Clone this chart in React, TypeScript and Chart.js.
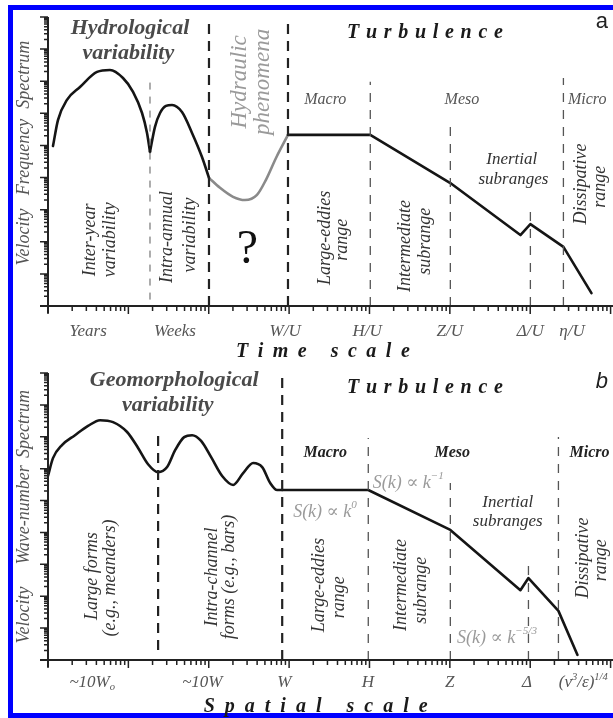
import React, { useEffect, useRef } from "react";
import { Chart, registerables } from "chart.js";

Chart.register(...registerables);

const SERIF = '"Liberation Serif", "Times New Roman", "DejaVu Serif", serif';
const SANS = '"Liberation Sans", Arial, "DejaVu Sans", sans-serif';

// ---------- shared log-decade axes ----------
const xDecades = [0, 1, 2, 3, 4, 5, 6, 7];
const yDecades = [0, 1, 2, 3, 4, 5, 6, 7, 8, 9];
const minorSteps = [2, 3, 4, 5, 6, 7, 8, 9];

// ---------- panel a : time scale ----------
const timeTickLabels = ["Years", "Weeks", "W/U", "H/U", "Z/U", "Δ/U", "η/U"];
const timeTickPos = [0.5, 1.58, 2.95, 3.97, 5.0, 6.0, 6.52];

const interYearX = [0.062, 0.124, 0.236, 0.398, 0.61, 0.771, 0.933, 1.058, 1.17, 1.232, 1.269];
const interYearY = [4.98, 5.79, 6.42, 6.82, 7.29, 7.35, 7.1, 6.67, 6.01, 5.39, 4.8];

const intraAnnualX = [1.269, 1.331, 1.394, 1.468, 1.543, 1.667, 1.792, 1.916, 2.003];
const intraAnnualY = [4.8, 5.58, 6.01, 6.23, 6.26, 6.04, 5.39, 4.64, 3.99];

const hydraulicX = [2.003, 2.14, 2.302, 2.451, 2.6, 2.712, 2.837, 2.986];
const hydraulicY = [3.99, 3.68, 3.4, 3.3, 3.46, 3.93, 4.61, 5.33];

const turbTimeX = [2.986, 4.01, 5.006, 5.878, 6.002, 6.413, 6.762];
const turbTimeY = [5.33, 5.33, 3.83, 2.21, 2.55, 1.84, 0.4];

const boundsTimeX = [1.269, 2.003, 2.986, 4.01, 5.006, 6.002, 6.413];
const boundsTimeTop = [7.1, 9, 9, 6.98, 5.73, 3.05, 7.1];
const boundsTimeBottom = [0.2, 0, 0, 0, 0, 0, 0];
const boundsTimeKind = ["light", "bold", "bold", "thin", "thin", "thin", "thin"];

// ---------- panel b : spatial scale ----------
const spaceTickLabels = ["~10W_{o}", "~10W", "W", "H", "Z", "Δ", "(ν^{3}/ε)^{1/4}"];
const spaceTickPos = [0.55, 1.92, 2.94, 3.98, 5.0, 5.96, 6.66];

const geomorphX = [0.0, 0.062, 0.174, 0.336, 0.498, 0.648, 0.809, 0.984, 1.121, 1.245, 1.37, 1.482, 1.582, 1.694, 1.793, 1.905, 2.03, 2.167, 2.304, 2.428, 2.553, 2.665, 2.765, 2.852, 2.914];
const geomorphY = [5.77, 6.33, 6.74, 7.05, 7.34, 7.52, 7.46, 7.15, 6.65, 6.14, 5.89, 6.05, 6.58, 6.99, 7.05, 6.87, 6.36, 5.77, 5.49, 5.86, 6.18, 6.05, 5.55, 5.33, 5.33];

const turbSpaceX = [2.914, 3.985, 5.006, 5.878, 5.978, 6.351, 6.588];
const turbSpaceY = [5.33, 5.33, 4.08, 2.19, 2.57, 1.54, 0.16];

const boundsSpaceX = [1.37, 2.914, 3.985, 5.006, 5.978, 6.351];
const boundsSpaceTop = [7.15, 9, 6.96, 5.55, 3.1, 6.99];
const boundsSpaceBottom = [0.31, 0, 0, 0, 0, 0];
const boundsSpaceKind = ["bold", "bold", "thin", "thin", "thin", "thin"];

// ---------- annotations ----------
type Ann = {
  t: string; x: number; y: number; size: number;
  style?: string; weight?: string; color?: string; rot?: boolean;
  align?: "left" | "center"; spacing?: number; family?: string;
};

const annTime: Ann[] = [
  { t: "Hydrological", x: 1.02, y: 8.66, size: 22, style: "italic", weight: "bold", color: "#4a4a4a" },
  { t: "variability", x: 1.0, y: 7.88, size: 22, style: "italic", weight: "bold", color: "#4a4a4a" },
  { t: "Hydraulic", x: 2.39, y: 6.98, size: 23, style: "italic", color: "#9a9a9a", rot: true },
  { t: "phenomena", x: 2.675, y: 6.98, size: 23, style: "italic", color: "#9a9a9a", rot: true },
  { t: "Turbulence", x: 4.69, y: 8.5, size: 20, style: "italic", weight: "bold", color: "#1a1a1a", spacing: 6.7 },
  { t: "a", x: 6.89, y: 8.85, size: 22, family: SANS, color: "#222" },
  { t: "Macro", x: 3.45, y: 6.42, size: 16, style: "italic", color: "#555" },
  { t: "Meso", x: 5.15, y: 6.42, size: 16, style: "italic", color: "#555" },
  { t: "Micro", x: 6.47, y: 6.42, size: 16, style: "italic", color: "#555", align: "left" },
  { t: "Inertial", x: 5.77, y: 4.55, size: 17, style: "italic", color: "#333" },
  { t: "subranges", x: 5.79, y: 3.93, size: 17, style: "italic", color: "#333" },
  { t: "Inter-year", x: 0.52, y: 2.06, size: 18, style: "italic", color: "#333", rot: true },
  { t: "variability", x: 0.77, y: 2.06, size: 18, style: "italic", color: "#333", rot: true },
  { t: "Intra-annual", x: 1.49, y: 2.15, size: 18, style: "italic", color: "#333", rot: true },
  { t: "variability", x: 1.77, y: 2.21, size: 18, style: "italic", color: "#333", rot: true },
  { t: "?", x: 2.48, y: 1.74, size: 48, color: "#111" },
  { t: "Large-eddies", x: 3.45, y: 2.12, size: 18, style: "italic", color: "#333", rot: true },
  { t: "range", x: 3.66, y: 2.06, size: 18, style: "italic", color: "#333", rot: true },
  { t: "Intermediate", x: 4.44, y: 1.87, size: 18, style: "italic", color: "#333", rot: true },
  { t: "subrange", x: 4.69, y: 2.02, size: 18, style: "italic", color: "#333", rot: true },
  { t: "Dissipative", x: 6.64, y: 3.8, size: 18, style: "italic", color: "#333", rot: true },
  { t: "range", x: 6.87, y: 3.71, size: 18, style: "italic", color: "#333", rot: true },
  { t: "Spectrum", x: -0.29, y: 7.2, size: 18, style: "italic", color: "#555", rot: true },
  { t: "Frequency", x: -0.29, y: 4.64, size: 18, style: "italic", color: "#555", rot: true },
  { t: "Velocity", x: -0.29, y: 2.15, size: 18, style: "italic", color: "#555", rot: true },
  { t: "Time scale", x: 3.42, y: -1.43, size: 20, style: "italic", weight: "bold", color: "#1a1a1a", spacing: 9.5 },
];

const annSpace: Ann[] = [
  { t: "Geomorphological", x: 1.57, y: 8.78, size: 22, style: "italic", weight: "bold", color: "#4a4a4a" },
  { t: "variability", x: 1.49, y: 7.99, size: 22, style: "italic", weight: "bold", color: "#4a4a4a" },
  { t: "Turbulence", x: 4.69, y: 8.53, size: 20, style: "italic", weight: "bold", color: "#1a1a1a", spacing: 6.7 },
  { t: "b", x: 6.89, y: 8.71, size: 22, style: "italic", family: SANS, color: "#222" },
  { t: "Macro", x: 3.45, y: 6.49, size: 16, style: "italic", weight: "bold", color: "#222" },
  { t: "Meso", x: 5.03, y: 6.49, size: 16, style: "italic", weight: "bold", color: "#222" },
  { t: "Micro", x: 6.49, y: 6.49, size: 16, style: "italic", weight: "bold", color: "#222", align: "left" },
  { t: "S(k) ∝ k^{−1}", x: 4.04, y: 5.55, size: 18, style: "italic", color: "#9a9a9a", align: "left" },
  { t: "S(k) ∝ k^{0}", x: 3.05, y: 4.64, size: 18, style: "italic", color: "#9a9a9a", align: "left" },
  { t: "S(k) ∝ k^{−5/3}", x: 5.09, y: 0.69, size: 18, style: "italic", color: "#9a9a9a", align: "left" },
  { t: "Inertial", x: 5.72, y: 4.95, size: 17, style: "italic", color: "#333" },
  { t: "subranges", x: 5.72, y: 4.33, size: 17, style: "italic", color: "#333" },
  { t: "Large forms", x: 0.55, y: 2.63, size: 18, style: "italic", color: "#333", rot: true },
  { t: "(e.g., meanders)", x: 0.77, y: 2.57, size: 18, style: "italic", color: "#333", rot: true },
  { t: "Intra-channel", x: 2.05, y: 2.6, size: 18, style: "italic", color: "#333", rot: true },
  { t: "forms (e.g., bars)", x: 2.26, y: 2.6, size: 18, style: "italic", color: "#333", rot: true },
  { t: "Large-eddies", x: 3.38, y: 2.35, size: 18, style: "italic", color: "#333", rot: true },
  { t: "range", x: 3.63, y: 1.97, size: 18, style: "italic", color: "#333", rot: true },
  { t: "Intermediate", x: 4.4, y: 2.35, size: 18, style: "italic", color: "#333", rot: true },
  { t: "subrange", x: 4.65, y: 2.19, size: 18, style: "italic", color: "#333", rot: true },
  { t: "Dissipative", x: 6.66, y: 3.2, size: 18, style: "italic", color: "#333", rot: true },
  { t: "range", x: 6.89, y: 3.13, size: 18, style: "italic", color: "#333", rot: true },
  { t: "Spectrum", x: -0.29, y: 7.4, size: 18, style: "italic", color: "#555", rot: true },
  { t: "Wave-number", x: -0.29, y: 4.55, size: 18, style: "italic", color: "#555", rot: true },
  { t: "Velocity", x: -0.29, y: 1.41, size: 18, style: "italic", color: "#555", rot: true },
  { t: "Spatial scale", x: 3.33, y: -1.47, size: 20, style: "italic", weight: "bold", color: "#1a1a1a", spacing: 10 },
];

// ---------- drawing helpers ----------
function parseRich(t: string) {
  const out: { s: string; m: "n" | "sup" | "sub" }[] = [];
  const re = /\^\{([^}]*)\}|_\{([^}]*)\}/g;
  let last = 0;
  let mt: RegExpExecArray | null;
  while ((mt = re.exec(t))) {
    if (mt.index > last) out.push({ s: t.slice(last, mt.index), m: "n" });
    if (mt[1] !== undefined) out.push({ s: mt[1], m: "sup" });
    else out.push({ s: mt[2], m: "sub" });
    last = re.lastIndex;
  }
  if (last < t.length) out.push({ s: t.slice(last), m: "n" });
  return out;
}

function drawAnn(ctx: CanvasRenderingContext2D, a: Ann, px: number, py: number) {
  const fam = a.family || SERIF;
  const pre = `${a.style || "normal"} ${a.weight || "normal"} `;
  const sp = a.spacing || 0;
  const items: { s: string; font: string; w: number; dy: number }[] = [];
  for (const seg of parseRich(a.t)) {
    const fs = seg.m === "n" ? a.size : a.size * 0.62;
    const font = `${pre}${fs}px ${fam}`;
    ctx.font = font;
    const dy = seg.m === "sup" ? -a.size * 0.36 : seg.m === "sub" ? a.size * 0.25 : 0;
    const pieces = sp ? Array.from(seg.s) : [seg.s];
    for (const p of pieces) items.push({ s: p, font, w: ctx.measureText(p).width, dy });
  }
  const total = items.reduce((s, it) => s + it.w, 0) + sp * Math.max(0, items.length - 1);
  ctx.save();
  ctx.translate(px, py);
  if (a.rot) ctx.rotate(-Math.PI / 2);
  ctx.fillStyle = a.color || "#222";
  ctx.textBaseline = "middle";
  ctx.textAlign = "left";
  let cx = a.align === "left" ? 0 : -total / 2;
  for (const it of items) {
    ctx.font = it.font;
    ctx.fillText(it.s, cx, it.dy);
    cx += it.w + sp;
  }
  ctx.restore();
}

type PanelCfg = {
  anns: Ann[];
  tickLabels: string[];
  tickPos: number[];
  tickLabelY: number;
};

function drawDecor(chart: any, cfg: PanelCfg) {
  const { ctx } = chart;
  const xs = chart.scales.x;
  const ys = chart.scales.y;
  const axX = xs.getPixelForValue(0);
  const axY = ys.getPixelForValue(0);
  ctx.save();
  ctx.strokeStyle = "#222";
  ctx.lineCap = "butt";
  // axis lines
  ctx.lineWidth = 2;
  ctx.beginPath();
  ctx.moveTo(axX - 8, axY);
  ctx.lineTo(chart.width, axY);
  ctx.moveTo(axX, ys.getPixelForValue(9));
  ctx.lineTo(axX, axY + 7);
  ctx.stroke();
  // x ticks (log decades)
  ctx.lineWidth = 1.5;
  ctx.beginPath();
  for (const k of xDecades) {
    const px = xs.getPixelForValue(k);
    ctx.moveTo(px, axY);
    ctx.lineTo(px, axY + 8);
    if (k < xDecades[xDecades.length - 1]) {
      for (const m of minorSteps) {
        const mx = xs.getPixelForValue(k + Math.log10(m));
        ctx.moveTo(mx, axY);
        ctx.lineTo(mx, axY + 5);
      }
    }
  }
  // y ticks (log decades)
  for (const k of yDecades) {
    const py = ys.getPixelForValue(k);
    ctx.moveTo(axX - 8, py);
    ctx.lineTo(axX, py);
    if (k < yDecades[yDecades.length - 1]) {
      for (const m of minorSteps) {
        const my = ys.getPixelForValue(k + Math.log10(m));
        ctx.moveTo(axX - 4, my);
        ctx.lineTo(axX, my);
      }
    }
  }
  ctx.stroke();
  // tick labels
  cfg.tickLabels.forEach((t, i) => {
    drawAnn(ctx, { t, x: 0, y: 0, size: 17, style: "italic", color: "#555" },
      xs.getPixelForValue(cfg.tickPos[i]), ys.getPixelForValue(cfg.tickLabelY));
  });
  // annotations
  for (const a of cfg.anns) {
    drawAnn(ctx, a, xs.getPixelForValue(a.x), ys.getPixelForValue(a.y));
  }
  ctx.restore();
}

function pts(xs: number[], ys: number[]) {
  return xs.map((x, i) => ({ x, y: ys[i] }));
}

const dashStyle: Record<string, { w: number; c: string; d: number[] }> = {
  bold: { w: 2.2, c: "#222", d: [10, 7] },
  thin: { w: 1.3, c: "#555", d: [9, 8] },
  light: { w: 1.2, c: "#777", d: [7, 7] },
};

function boundDatasets(xs: number[], tops: number[], bottoms: number[], kinds: string[]) {
  return xs.map((x, i) => {
    const s = dashStyle[kinds[i]];
    return {
      data: [{ x, y: bottoms[i] }, { x, y: tops[i] }],
      borderColor: s.c,
      borderWidth: s.w,
      borderDash: s.d,
      pointRadius: 0,
      tension: 0,
    };
  });
}

function curve(xs: number[], ys: number[], color: string, smooth: boolean) {
  return {
    data: pts(xs, ys),
    borderColor: color,
    borderWidth: 2.6,
    pointRadius: 0,
    tension: smooth ? 0.4 : 0,
    cubicInterpolationMode: smooth ? "monotone" : "default",
    borderJoinStyle: "round",
    borderCapStyle: "round",
  };
}

function Panel(props: {
  top: number; height: number; padTop: number; padBottom: number;
  datasets: any[]; cfg: PanelCfg;
}) {
  const ref = useRef<HTMLCanvasElement>(null);
  useEffect(() => {
    const cfg = props.cfg;
    const plugin = { id: "decor", afterDraw(chart: any) { drawDecor(chart, cfg); } };
    const chart = new Chart(ref.current as HTMLCanvasElement, {
      type: "line",
      data: { datasets: props.datasets },
      options: {
        responsive: false,
        animation: false,
        devicePixelRatio: 1,
        events: [],
        layout: { padding: { left: 48, right: 0, top: props.padTop, bottom: props.padBottom } },
        scales: {
          x: { type: "linear", display: false, min: 0, max: 7.03 },
          y: { type: "linear", display: false, min: 0, max: 9 },
        },
        plugins: { legend: { display: false }, tooltip: { enabled: false } },
      },
      plugins: [plugin],
    } as any);
    return () => chart.destroy();
  }, []);
  return (
    <canvas
      ref={ref}
      width={613}
      height={props.height}
      style={{ position: "absolute", left: 0, top: props.top, width: 613, height: props.height }}
    />
  );
}

export default function App() {
  const dsTime = [
    ...boundDatasets(boundsTimeX, boundsTimeTop, boundsTimeBottom, boundsTimeKind),
    curve(interYearX, interYearY, "#151515", true),
    curve(intraAnnualX, intraAnnualY, "#151515", true),
    curve(hydraulicX, hydraulicY, "#8a8a8a", true),
    curve(turbTimeX, turbTimeY, "#151515", false),
  ];
  const dsSpace = [
    ...boundDatasets(boundsSpaceX, boundsSpaceTop, boundsSpaceBottom, boundsSpaceKind),
    curve(geomorphX, geomorphY, "#151515", true),
    curve(turbSpaceX, turbSpaceY, "#151515", false),
  ];
  return (
    <div style={{ position: "absolute", left: 0, top: 0, width: 613, height: 718, overflow: "hidden", background: "#fff" }}>
      <div style={{ position: "absolute", left: 8, top: 5, width: 700, height: 713, boxSizing: "border-box", border: "5px solid #0000ff" }} />
      <Panel top={0} height={372} padTop={17} padBottom={66} datasets={dsTime}
        cfg={{ anns: annTime, tickLabels: timeTickLabels, tickPos: timeTickPos, tickLabelY: -0.8 }} />
      <Panel top={355} height={363} padTop={18} padBottom={58} datasets={dsSpace}
        cfg={{ anns: annSpace, tickLabels: spaceTickLabels, tickPos: spaceTickPos, tickLabelY: -0.72 }} />
    </div>
  );
}
